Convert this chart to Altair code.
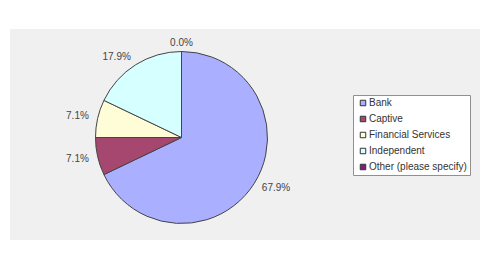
import altair as alt
import pandas as pd

categories = ["Bank", "Captive", "Financial Services", "Independent", "Other (please specify)"]
percent = [67.9, 7.1, 7.1, 17.9, 0.0]
labels = ["67.9%", "7.1%", "7.1%", "17.9%", "0.0%"]
colors = ["#aab0ff", "#a6476f", "#fffcd8", "#d6ffff", "#7f1f7f"]

df = pd.DataFrame({"cat": categories, "pct": percent, "label": labels, "order": list(range(len(categories)))})

cx, cy = 171.5, 108.5

base = alt.Chart(df).encode(
    theta=alt.Theta("pct:Q", stack=True),
    order=alt.Order("order:Q"),
)

arcs = base.mark_arc(stroke="#444444", strokeWidth=1, outerRadius=86).encode(
    color=alt.Color(
        "cat:N",
        scale=alt.Scale(domain=categories, range=colors),
        sort=categories,
        legend=alt.Legend(
            title=None,
            orient="none",
            legendX=343,
            legendY=66,
            fillColor="white",
            strokeColor="#909090",
            padding=3,
            symbolType="square",
            symbolSize=30,
            symbolStrokeColor="#333333",
            symbolStrokeWidth=1,
            symbolOffset=2,
            labelFont="Liberation Sans",
            labelFontSize=10,
            labelColor="#333333",
            labelOffset=1,
            rowPadding=6,
        ),
    ),
    x=alt.value(cx),
    y=alt.value(cy),
)

align_expr = (
    "((datum.pct_start + datum.pct_end) / 2) < 1 || ((datum.pct_start + datum.pct_end) / 2) > 99"
    " ? 'center' : (((datum.pct_start + datum.pct_end) / 2) < 50 ? 'left' : 'right')"
)

text = base.mark_text(
    radius=95, font="Liberation Sans", fontSize=10, color="#444444",
    align=alt.expr(align_expr),
).encode(
    text="label:N",
    x=alt.value(cx),
    y=alt.value(cy),
)

chart = alt.layer(arcs, text).properties(
    width=470,
    height=211,
    padding={"left": 10, "top": 29, "right": 10, "bottom": 30},
    background="white",
).configure_view(fill="#f0f0f0", stroke=None)

chart.save("out.html", embed_options={"renderer": "svg", "actions": False})
